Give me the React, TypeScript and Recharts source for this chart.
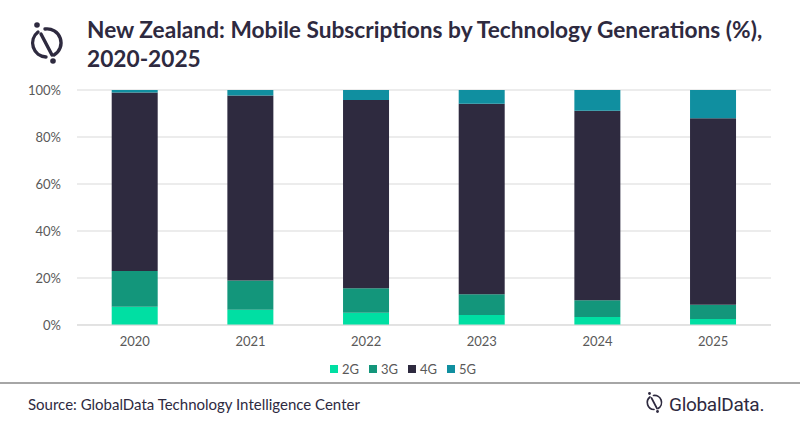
import { Bar, BarChart, CartesianGrid, Legend, XAxis, YAxis } from "recharts";

const years = ["2020", "2021", "2022", "2023", "2024", "2025"];
const share2G = [7.8, 6.5, 5.2, 4.3, 3.4, 2.6];
const share3G = [15.2, 12.4, 10.4, 8.8, 7.1, 6.0];
const share4G = [75.9, 78.8, 80.1, 81.1, 80.7, 79.4];
const share5G = [1.1, 2.3, 4.3, 5.8, 8.8, 12.0];
const yTicks = [0, 20, 40, 60, 80, 100];

const series = [
  { key: "g2", name: "2G", color: "#00dfa3", values: share2G },
  { key: "g3", name: "3G", color: "#13967b", values: share3G },
  { key: "g4", name: "4G", color: "#2e2a3f", values: share4G },
  { key: "g5", name: "5G", color: "#108fa0", values: share5G },
];

const data = years.map((year, i) => {
  const row: Record<string, string | number> = { year };
  series.forEach((s) => (row[s.key] = s.values[i]));
  return row;
});

const ink = "#2e2a3f";
const grey = "#595959";
const font = "Lato, 'Open Sans', sans-serif";

function LegendRow() {
  return (
    <div style={{ display: "flex", justifyContent: "center", gap: 10, height: 20, alignItems: "center", paddingLeft: 8 }}>
      {series.map((s) => (
        <div key={s.key} style={{ display: "flex", alignItems: "center", fontSize: 13, color: grey, fontFamily: font }}>
          <span style={{ width: 8, height: 8, background: s.color, marginRight: 4, display: "inline-block" }} />
          {s.name}
        </div>
      ))}
    </div>
  );
}

// GlobalData mark: split circle with a slash and two dots
function Mark({ x, y, size }: { x: number; y: number; size: number }) {
  return (
    <svg width={size} height={size * 1.1} style={{ position: "absolute", left: x, top: y }} viewBox="0 0 40 44">
      <path d="M 12 12 A 14 14 0 0 0 20 37" fill="none" stroke={ink} strokeWidth={3.4} strokeLinecap="round" />
      <path d="M 19 9 A 14 14 0 0 1 28 35" fill="none" stroke={ink} strokeWidth={3.4} strokeLinecap="round" />
      <line x1={15} y1={14} x2={26} y2={35} stroke={ink} strokeWidth={3.4} strokeLinecap="round" />
      <circle cx={11} cy={5} r={2.8} fill={ink} />
      <circle cx={27} cy={41} r={2.8} fill={ink} />
    </svg>
  );
}

export default function App() {
  return (
    <div style={{ position: "absolute", left: 0, top: 0, width: 800, height: 428, background: "#fff", overflow: "hidden" }}>
      <Mark x={26} y={20} size={40} />
      <div
        style={{
          position: "absolute",
          left: 87,
          top: 15,
          fontFamily: font,
          fontWeight: 700,
          fontSize: 22.7,
          lineHeight: "29px",
          color: ink,
          whiteSpace: "nowrap",
        }}
      >
        New Zealand: Mobile Subscriptions by Technology Generations (%),
        <br />
        2020-2025
      </div>
      <BarChart
        width={800}
        height={428}
        data={data}
        margin={{ top: 90, right: 29, left: 27, bottom: 49 }}
        style={{ position: "absolute", left: 0, top: 0 }}
        barCategoryGap="30%"
      >
        <CartesianGrid vertical={false} stroke="#d9d9d9" />
        <XAxis
          dataKey="year"
          axisLine={{ stroke: "#d9d9d9" }}
          tickLine={false}
          height={34}
          tick={{ fontSize: 13, fill: grey, fontFamily: font }}
          tickMargin={6}
        />
        <YAxis
          width={50}
          domain={[0, 100]}
          ticks={yTicks}
          tickFormatter={(v) => `${v}%`}
          axisLine={false}
          tickLine={false}
          tick={{ fontSize: 13, fill: grey, fontFamily: font }}
          tickMargin={10}
        />
        <Legend verticalAlign="bottom" height={20} content={() => <LegendRow />} />
        {series.map((s) => (
          <Bar key={s.key} dataKey={s.key} name={s.name} stackId="a" fill={s.color} isAnimationActive={false} />
        ))}
      </BarChart>
      <div style={{ position: "absolute", left: 0, top: 382, width: 800, height: 2, background: "#a6a6a6" }} />
      <div style={{ position: "absolute", left: 28, top: 395, fontFamily: font, fontSize: 15, color: ink }}>
        Source: GlobalData Technology Intelligence Center
      </div>
      <Mark x={644} y={391} size={20} />
      <div
        style={{
          position: "absolute",
          left: 669,
          top: 393,
          fontFamily: "Roboto, sans-serif",
          fontSize: 19,
          letterSpacing: -0.3,
          color: ink,
        }}
      >
        GlobalData.
      </div>
    </div>
  );
}
